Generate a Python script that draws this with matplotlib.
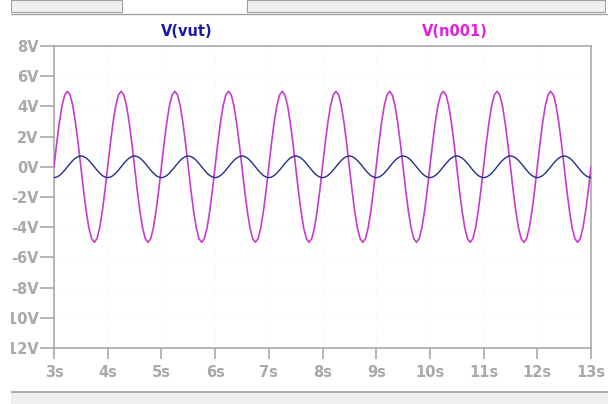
import numpy as np
import matplotlib
matplotlib.use('Agg')
import matplotlib.pyplot as plt
from matplotlib.patches import Rectangle
from matplotlib.lines import Line2D

cycle_times = [0.00, 0.05, 0.10, 0.15, 0.20, 0.25, 0.30, 0.35, 0.40, 0.45,
               0.50, 0.55, 0.60, 0.65, 0.70, 0.75, 0.80, 0.85, 0.90, 0.95]
n001_cycle = [0.0, 1.55, 2.94, 4.05, 4.76, 5.0, 4.76, 4.05, 2.94, 1.55,
              0.0, -1.55, -2.94, -4.05, -4.76, -5.0, -4.76, -4.05, -2.94, -1.55]
vut_cycle = [-0.72, -0.68, -0.58, -0.42, -0.22, 0.0, 0.22, 0.42, 0.58, 0.68,
             0.72, 0.68, 0.58, 0.42, 0.22, 0.0, -0.22, -0.42, -0.58, -0.68]
period_starts = [3, 4, 5, 6, 7, 8, 9, 10, 11, 12]

xticks = [3, 4, 5, 6, 7, 8, 9, 10, 11, 12, 13]
xticklabels = ['3s', '4s', '5s', '6s', '7s', '8s', '9s', '10s', '11s', '12s', '13s']
yticks = [8, 6, 4, 2, 0, -2, -4, -6, -8, -10, -12]
yticklabels = ['8V', '6V', '4V', '2V', '0V', '-2V', '-4V', '-6V', '-8V', '-10V', '-12V']

# build full traces by repeating the sampled period
t = np.concatenate([np.array(cycle_times) + s for s in period_starts] + [[13.0]])
n001 = np.concatenate([n001_cycle] * len(period_starts) + [[n001_cycle[0]]])
vut = np.concatenate([vut_cycle] * len(period_starts) + [[vut_cycle[0]]])

W, H = 608, 404
fig = plt.figure(figsize=(W / 100, H / 100), dpi=100)
fig.patch.set_facecolor('white')

ax = fig.add_axes([54 / W, 1 - 348 / H, (591 - 54) / W, (348 - 46) / H])
grey = '#a9a9a9'

ax.plot(t, n001, color='#c63ccf', lw=1.2, zorder=3)
ax.plot(t, vut, color='#232f8c', lw=1.0, zorder=4)

ax.set_xlim(3, 13)
ax.set_ylim(-12, 8)
ax.set_xticks(xticks)
ax.set_xticklabels(xticklabels)
ax.set_yticks(yticks)
ax.set_yticklabels(yticklabels)

for s in ax.spines.values():
  s.set_color(grey)
  s.set_linewidth(1.2)

ax.tick_params(axis='y', length=10, width=1.2, color=grey, pad=1,
               labelcolor=grey, labelsize=10.5)
ax.tick_params(axis='x', length=8, width=1.2, color=grey, pad=4.5,
               labelcolor=grey, labelsize=10.5)
for lab in ax.get_xticklabels() + ax.get_yticklabels():
  lab.set_fontweight('bold')

ax.grid(True, color='#f2f2f2', linestyle=':', linewidth=0.6)
ax.set_axisbelow(True)

# trace names above the plot
fig.text(187 / W, 1 - 32 / H, 'V(vut)', color='#1a1aa8', fontsize=10.5,
         fontweight='bold', ha='center', va='center')
fig.text(455 / W, 1 - 32 / H, 'V(n001)', color='#dd22dd', fontsize=10.5,
         fontweight='bold', ha='center', va='center')

# window chrome: toolbar strip at the top, status bar at the bottom
fig.add_artist(Rectangle((11 / W, 1 - 12 / H), 111 / W, 12 / H,
               facecolor='#efefef', edgecolor='#a0a0a0', lw=0.8,
               transform=fig.transFigure))
fig.add_artist(Rectangle((247 / W, 1 - 12 / H), 358 / W, 12 / H,
               facecolor='#efefef', edgecolor='#a0a0a0', lw=0.8,
               transform=fig.transFigure))
fig.add_artist(Line2D([11 / W, 1], [1 - 13.5 / H, 1 - 13.5 / H],
               color='#a0a0a0', lw=1.0, transform=fig.transFigure))
fig.add_artist(Rectangle((11 / W, 0), 1, 12 / H, facecolor='#f0eeee',
               edgecolor='none', transform=fig.transFigure))
fig.add_artist(Line2D([11 / W, 1], [12 / H, 12 / H], color='#a0a0a0',
               lw=1.2, transform=fig.transFigure))
# left edge of the window hides part of the longest labels
fig.add_artist(Rectangle((0, 0), 11 / W, 1, facecolor='white',
               edgecolor='none', transform=fig.transFigure, zorder=10))

fig.savefig('out.png', dpi=100)
